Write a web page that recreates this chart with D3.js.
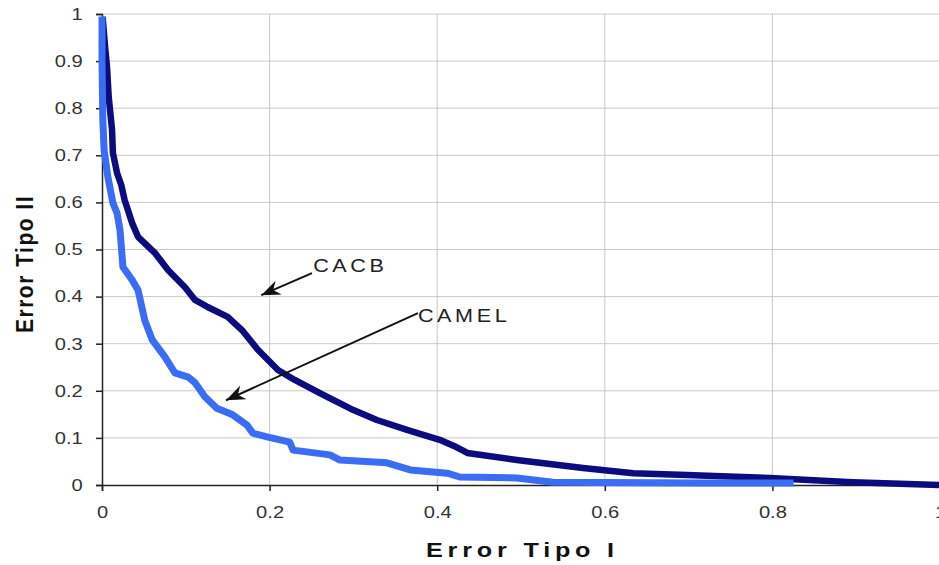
<!DOCTYPE html>
<html>
<head>
<meta charset="utf-8">
<script src="https://cdn.jsdelivr.net/npm/d3@7"></script>
<style>
  html, body { margin: 0; padding: 0; background: #fff; }
  svg { display: block; }
  text { font-family: "Liberation Sans", Arial, sans-serif; }
</style>
</head>
<body>
<svg id="chart" width="939" height="565"></svg>
<script>
// ---------------- data ----------------
const xTicks = [0, 0.2, 0.4, 0.6, 0.8, 1];
const xTickLabels = ["0", "0.2", "0.4", "0.6", "0.8", "1"];
const yTicks = [0, 0.1, 0.2, 0.3, 0.4, 0.5, 0.6, 0.7, 0.8, 0.9, 1];
const yTickLabels = ["0", "0.1", "0.2", "0.3", "0.4", "0.5", "0.6", "0.7", "0.8", "0.9", "1"];

// CACB (dark navy)
const cacbX = [0.001, 0.004, 0.006, 0.008, 0.012, 0.013, 0.018, 0.023, 0.027, 0.036, 0.043, 0.063, 0.079, 0.099, 0.111, 0.126, 0.150, 0.167, 0.186, 0.210, 0.230, 0.260, 0.300, 0.328, 0.364, 0.403, 0.420, 0.436, 0.495, 0.574, 0.634, 0.698, 0.797, 0.896, 0.996];
const cacbY = [0.987, 0.924, 0.887, 0.824, 0.754, 0.705, 0.662, 0.637, 0.605, 0.556, 0.527, 0.493, 0.456, 0.420, 0.393, 0.378, 0.357, 0.329, 0.287, 0.244, 0.223, 0.195, 0.159, 0.138, 0.117, 0.096, 0.083, 0.068, 0.053, 0.036, 0.025, 0.021, 0.015, 0.006, 0.000];

// CAMEL (light blue)
const camelX = [0.000, 0.000, 0.001, 0.0025, 0.007, 0.013, 0.018, 0.0215, 0.025, 0.036, 0.043, 0.051, 0.060, 0.075, 0.087, 0.103, 0.111, 0.123, 0.137, 0.156, 0.173, 0.180, 0.197, 0.224, 0.228, 0.272, 0.284, 0.340, 0.368, 0.412, 0.427, 0.495, 0.538, 0.714, 0.821];
const camelY = [0.987, 0.902, 0.775, 0.711, 0.654, 0.599, 0.577, 0.541, 0.463, 0.435, 0.414, 0.350, 0.308, 0.272, 0.238, 0.229, 0.217, 0.187, 0.163, 0.149, 0.127, 0.110, 0.102, 0.091, 0.074, 0.064, 0.053, 0.047, 0.032, 0.025, 0.017, 0.015, 0.006, 0.004, 0.004];

const seriesNames = ["CACB", "CAMEL"];
const axisTitleX = "Error Tipo I";
const axisTitleY = "Error Tipo II";

// ---------------- layout ----------------
const margin = { left: 102, top: 14 };
const W = 838, H = 471;
const svg = d3.select("#chart");
const g = svg.append("g").attr("transform", `translate(${margin.left},${margin.top})`);

const x = d3.scaleLinear().domain([0, 1]).range([0, W]);
const y = d3.scaleLinear().domain([0, 1]).range([H, 0]);

// gridlines
g.append("g").selectAll("line.h").data(yTicks.filter(d => d > 0)).join("line")
  .attr("x1", 0).attr("x2", W)
  .attr("y1", d => y(d)).attr("y2", d => y(d))
  .attr("stroke", "#c9c9c9").attr("stroke-width", 1);
g.append("g").selectAll("line.v").data(xTicks.filter(d => d > 0)).join("line")
  .attr("x1", d => x(d)).attr("x2", d => x(d))
  .attr("y1", 0).attr("y2", H)
  .attr("stroke", "#c9c9c9").attr("stroke-width", 1);

// axes
const xAxis = d3.axisBottom(x).tickValues(xTicks)
  .tickFormat((d, i) => xTickLabels[i]).tickSize(6).tickPadding(15);
const yAxis = d3.axisLeft(y).tickValues(yTicks)
  .tickFormat((d, i) => yTickLabels[i]).tickSize(6).tickPadding(10);

const gx = g.append("g").attr("transform", `translate(0,${H})`).call(xAxis);
const gy = g.append("g").call(yAxis);
[gx, gy].forEach(a => {
  a.select(".domain").attr("stroke", "#222").attr("stroke-width", 1.5);
  a.selectAll(".tick line").attr("stroke", "#222").attr("stroke-width", 1.5);
  a.selectAll(".tick text")
    .attr("fill", "#333")
    .style("font-size", "16.8px")
    .style("font-family", '"Liberation Sans", Arial, sans-serif');
});
gy.selectAll(".tick text").attr("transform", "scale(1.2,1)");
gx.selectAll(".tick text").attr("transform", "scale(1.2,1)");

// lines
const line = d3.line().x(d => x(d[0])).y(d => y(d[1])).curve(d3.curveLinear);
const cacbData = cacbX.map((v, i) => [v, cacbY[i]]);
const camelData = camelX.map((v, i) => [v, camelY[i]]);

g.append("path").datum(cacbData).attr("d", line)
  .attr("fill", "none").attr("stroke", "#0c0c7e").attr("stroke-width", 6.5)
  .attr("stroke-linejoin", "round").attr("stroke-linecap", "square");
g.append("path").datum(camelData).attr("d", line)
  .attr("fill", "none").attr("stroke", "#3a6cf4").attr("stroke-width", 7)
  .attr("stroke-linejoin", "round").attr("stroke-linecap", "square");

// arrow marker
svg.append("defs").append("marker")
  .attr("id", "arrow").attr("viewBox", "-20 -10 22 20")
  .attr("refX", 0).attr("refY", 0)
  .attr("markerWidth", 22).attr("markerHeight", 20)
  .attr("markerUnits", "userSpaceOnUse")
  .attr("orient", "auto")
  .append("path").attr("d", "M0,0 L-19,-7.5 L-13,0 L-19,7.5 Z").attr("fill", "#111");

// annotations
const annotations = [
  { label: seriesNames[0], tx: 0.252, ty: 0.452, fromX: 0.2506, fromY: 0.450, toX: 0.190, toY: 0.403 },
  { label: seriesNames[1], tx: 0.377, ty: 0.346, fromX: 0.377, fromY: 0.365, toX: 0.148, toY: 0.180 }
];
annotations.forEach(a => {
  g.append("line")
    .attr("x1", x(a.fromX)).attr("y1", y(a.fromY))
    .attr("x2", x(a.toX)).attr("y2", y(a.toY))
    .attr("stroke", "#111").attr("stroke-width", 2)
    .attr("marker-end", "url(#arrow)");
  g.append("text")
    .attr("transform", `translate(${x(a.tx)},${y(a.ty)}) scale(1.2,1)`)
    .attr("fill", "#222")
    .style("font-size", "18px")
    .style("letter-spacing", "3px")
    .text(a.label);
});

// axis titles
svg.append("text")
  .attr("transform", `translate(426,557) scale(1.2,1)`)
  .attr("text-anchor", "start")
  .attr("fill", "#111")
  .style("font-size", "21px").style("font-weight", "bold")
  .style("letter-spacing", "4px")
  .text(axisTitleX);

svg.append("text")
  .attr("transform", `translate(33,264) rotate(-90) scale(1,1.15)`)
  .attr("text-anchor", "middle")
  .attr("fill", "#111")
  .style("font-size", "21px").style("font-weight", "bold")
  .style("letter-spacing", "1.5px")
  .text(axisTitleY);
</script>
</body>
</html>
